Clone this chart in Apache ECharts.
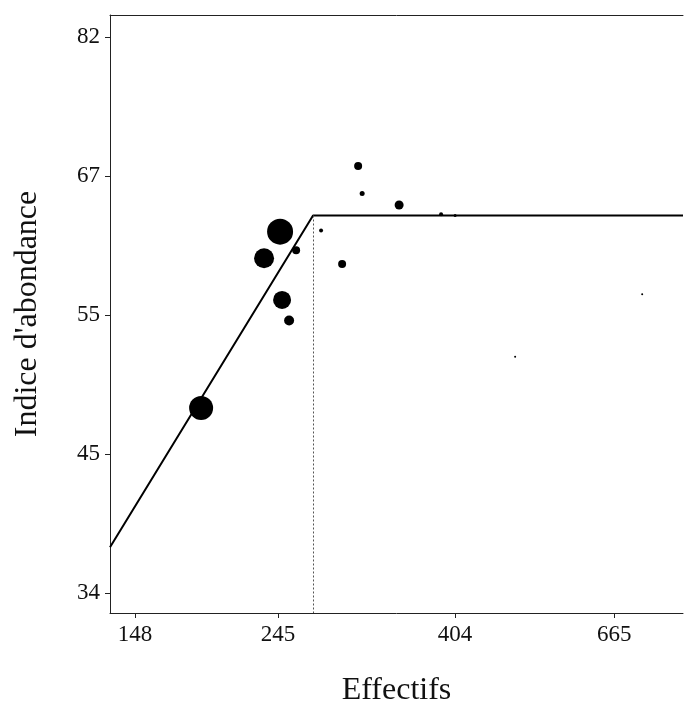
<!DOCTYPE html>
<html lang="fr">
<head>
<meta charset="UTF-8">
<title>Indice d'abondance</title>
<script src="https://cdn.jsdelivr.net/npm/echarts@6/dist/echarts.min.js"></script>
<style>
    html,body{margin:0;padding:0;background:#fff;}
    #chart{width:695px;height:710px;}
</style>
</head>
<body>
<div id="chart"></div>
<script>
// donnees
var effectifs = [192.8, 235.5, 246.8, 248.6, 254.9, 261.2, 283.6, 302.5, 316.9, 320.5, 353.7, 391.4, 404, 502.5, 711];
var indice    = [48.3, 59.9, 62.2, 56.3, 54.6, 60.6, 62.3, 59.4, 68.1, 65.5, 64.5, 63.7, 63.6, 52.0, 56.8];
var poids     = [24, 20, 26, 18, 10, 8, 4, 8, 8, 5, 9, 4, 3, 2, 2];
// modele segmente
var segX = [131, 276.4, 778];
var segY = [37.6, 63.6, 63.6];
// graduations (axes non lineaires)
var xTicks = [148, 245, 404, 665];
var xTickPos = [0, 1, 2.238, 3.35];
var yTicks = [34, 45, 55, 67, 82];
var yTickPos = [0, 1, 2, 3, 4];

// interpolation par morceaux valeur -> position d'axe
function piece(v, ticks, pos) {
    var i = 0;
    if (v > ticks[ticks.length - 1]) i = ticks.length - 2;
    else while (i < ticks.length - 2 && v > ticks[i + 1]) i++;
    var t = (v - ticks[i]) / (ticks[i + 1] - ticks[i]);
    return pos[i] + t * (pos[i + 1] - pos[i]);
}
function fx(v) { return piece(v, xTicks, xTickPos); }
function fy(v) { return piece(v, yTicks, yTickPos); }
function label(v, ticks, pos) {
    for (var i = 0; i < pos.length; i++) if (Math.abs(pos[i] - v) < 1e-6) return String(ticks[i]);
    return '';
}

var points = effectifs.map(function (x, i) { return [fx(x), fy(indice[i]), poids[i]]; });
var ligne = segX.map(function (x, i) { return [fx(x), fy(segY[i])]; });

var font = 'Liberation Serif';
var chart = echarts.init(document.getElementById('chart'));
chart.setOption({
    animation: false,
    grid: { left: 110, right: 12, top: 15, bottom: 97, outerBoundsMode: 'none', containLabel: false },
    xAxis: [{
        type: 'value', min: fx(131), max: fx(778),
        name: 'Effectifs', nameLocation: 'middle', nameGap: 62,
        nameTextStyle: { fontFamily: font, fontSize: 32, color: '#111' },
        splitLine: { show: false },
        axisLine: { onZero: false, lineStyle: { color: '#222' } },
        axisTick: { show: true, length: 5, customValues: xTickPos, lineStyle: { color: '#222' } },
        axisLabel: { customValues: xTickPos, fontFamily: font, fontSize: 23, color: '#111', margin: 10,
            formatter: function (v) { return label(v, xTicks, xTickPos); } }
    }, {
        type: 'value', position: 'top', min: fx(131), max: fx(778),
        axisLine: { show: true, onZero: false, lineStyle: { color: '#222' } },
        axisTick: { show: false }, axisLabel: { show: false }, splitLine: { show: false }
    }],
    yAxis: {
        type: 'value', min: fy(32.4), max: fy(84.4),
        name: "Indice d'abondance", nameLocation: 'middle', nameGap: 66,
        nameTextStyle: { fontFamily: font, fontSize: 32, color: '#111' },
        splitLine: { show: false },
        axisLine: { show: true, onZero: false, lineStyle: { color: '#222' } },
        axisTick: { show: true, length: 5, customValues: yTickPos, lineStyle: { color: '#222' } },
        axisLabel: { customValues: yTickPos, fontFamily: font, fontSize: 23, color: '#111', margin: 10,
            formatter: function (v) { return label(v, yTicks, yTickPos); } }
    },
    series: [{
        type: 'line', data: ligne, symbol: 'none',
        lineStyle: { color: '#000', width: 2 },
        markLine: {
            silent: true, symbol: 'none', label: { show: false },
            lineStyle: { color: '#555', type: [2, 2], width: 1 },
            data: [[{ coord: [fx(segX[1]), fy(segY[1])] }, { coord: [fx(segX[1]), fy(32.4)] }]]
        }
    }, {
        type: 'scatter', data: points,
        symbolSize: function (d) { return d[2]; },
        itemStyle: { color: '#000', opacity: 1 }
    }]
});
</script>
</body>
</html>
